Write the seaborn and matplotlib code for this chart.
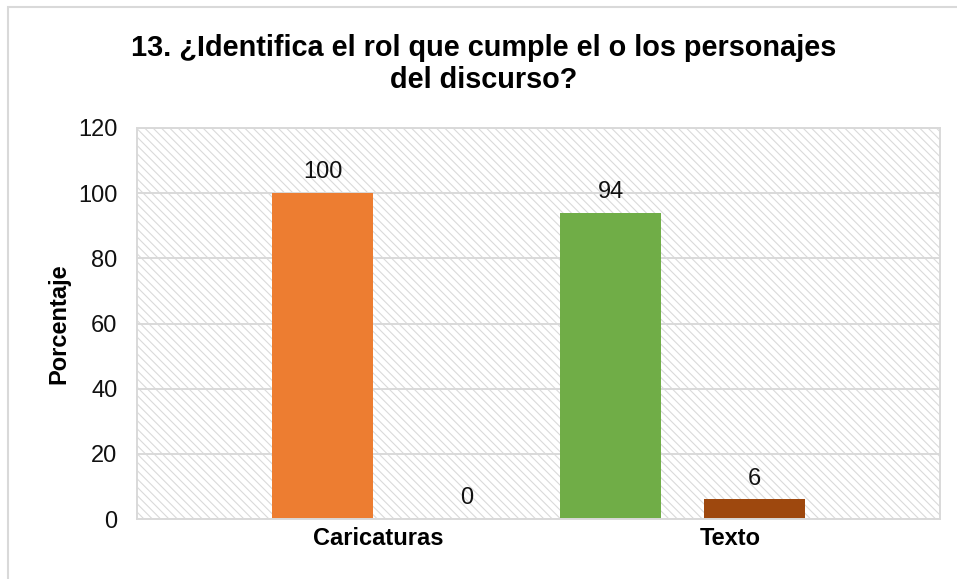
import matplotlib
matplotlib.use("Agg")
import matplotlib.pyplot as plt
from matplotlib.patches import Rectangle
import seaborn as sns
import pandas as pd

# Data
groups = ["Caricaturas", "Texto"]
bar_names = ["Caricaturas - Sí", "Caricaturas - No", "Texto - Sí", "Texto - No"]
values = [100, 0, 94, 6]
bar_colors = ["#ED7D31", "#4472C4", "#70AD47", "#9E480E"]
y_ticks = [0, 20, 40, 60, 80, 100, 120]
title = "13. ¿Identifica el rol que cumple el o los personajes\ndel discurso?"
y_label = "Porcentaje"

df = pd.DataFrame({"barra": bar_names, "valor": values})

sns.set_theme(style="white")
plt.rcParams["font.family"] = ["Liberation Sans", "DejaVu Sans"]
plt.rcParams["hatch.linewidth"] = 0.8

W, H = 957, 579
fig = plt.figure(figsize=(W / 100, H / 100), dpi=100)
ax = fig.add_axes([137 / W, 1 - 519 / H, (940 - 137) / W, (519 - 128) / H])

# hatched plot-area background
ax.add_patch(Rectangle((0, 0), 1, 1, transform=ax.transAxes, facecolor="white",
                       edgecolor="#dadada", hatch="\\" * 4, linewidth=0, zorder=-1))

sns.barplot(data=df, x="barra", y="valor", hue="barra", palette=bar_colors,
            width=0.70, saturation=1, legend=False, ax=ax, zorder=2,
            linewidth=0, edgecolor="none")

for cont, v in zip(ax.containers, values):
    ax.bar_label(cont, labels=[f"{v:g}"], padding=7, fontsize=17, color="#111111")

ax.set_ylim(0, 120)
ax.set_yticks(y_ticks)
ax.set_xlim(-1.288, 4.288)
ax.set_xticks([0.39, 2.83])
ax.set_xticklabels(groups, fontweight="bold", fontsize=17, color="#000000")
ax.tick_params(axis="x", length=0, pad=6)
ax.tick_params(axis="y", length=0, pad=14, labelsize=17, labelcolor="#111111")
ax.set_xlabel("")
ax.set_ylabel(y_label, fontsize=17, fontweight="bold", color="#000000")
ax.yaxis.set_label_coords(-0.083, 0.5)

ax.set_axisbelow(True)
ax.yaxis.grid(True, color="#d9d9d9", linewidth=1.4)
ax.xaxis.grid(False)
for s in ax.spines.values():
    s.set_visible(True)
    s.set_color("#d9d9d9")
    s.set_linewidth(1.4)

fig.text(484 / W, 1 - 64 / H, title, ha="center", va="center", fontsize=20.8,
         fontweight="bold", color="#000000", linespacing=1.2)

# chart frame
fig.patches.append(Rectangle((8 / W, -0.05), 1.2, 1 - 7 / H + 0.05,
                             transform=fig.transFigure, fill=False,
                             edgecolor="#d9d9d9", linewidth=1.5))

fig.savefig("out.png", dpi=100)
